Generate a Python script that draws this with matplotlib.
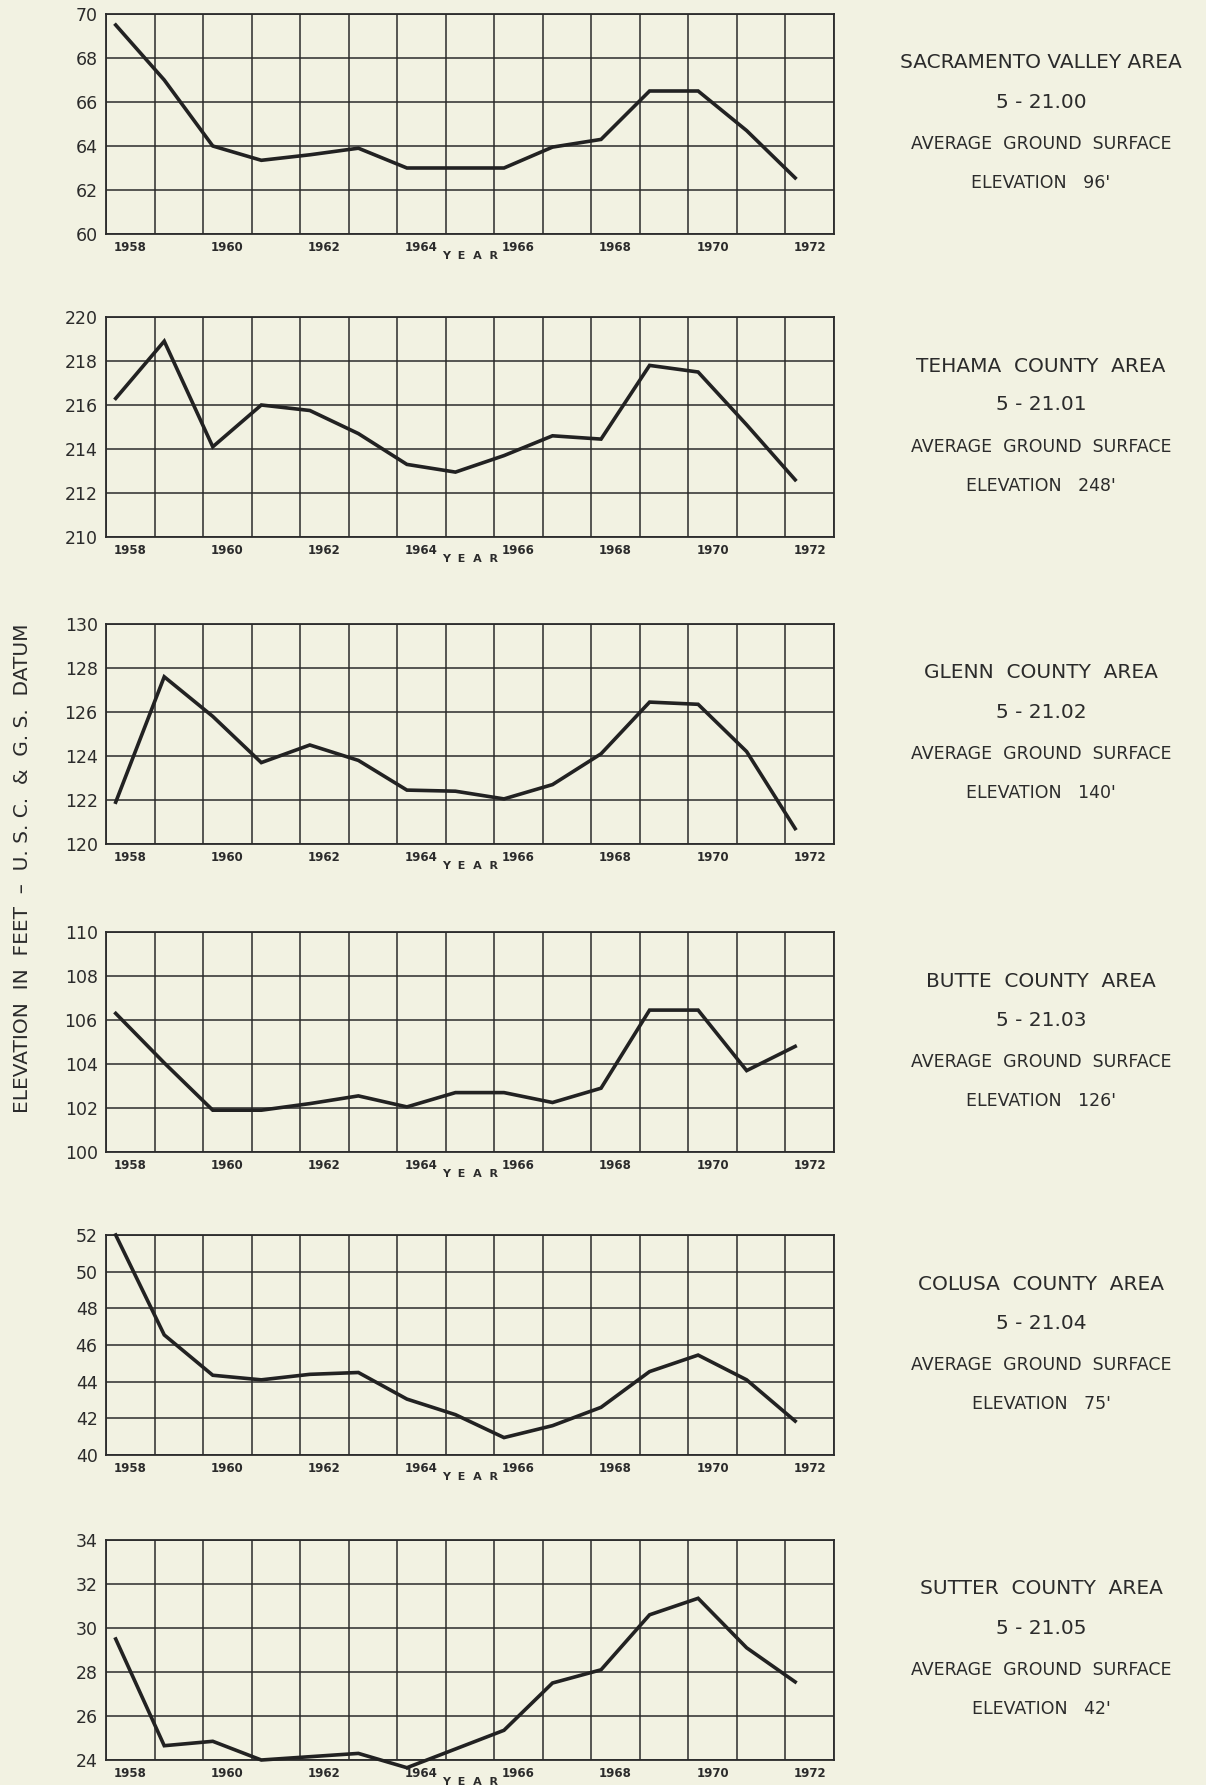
import numpy as np
import matplotlib
matplotlib.use("Agg")
import matplotlib.pyplot as plt
from matplotlib import font_manager

# ----- data (ft, USC&GS datum) -----
years = np.arange(1958, 1973)

sacramento = [69.5, 67.0, 64.0, 63.35, 63.6, 63.9, 63.0, 63.0, 63.0, 63.95, 64.3, 66.5, 66.5, 64.7, 62.55]
tehama = [216.3, 218.9, 214.1, 216.0, 215.75, 214.7, 213.3, 212.95, 213.7, 214.6, 214.45, 217.8, 217.5, 215.1, 212.6]
glenn = [121.9, 127.6, 125.8, 123.7, 124.5, 123.8, 122.45, 122.4, 122.05, 122.7, 124.1, 126.45, 126.35, 124.2, 120.7]
butte = [106.3, 104.05, 101.9, 101.9, 102.2, 102.55, 102.05, 102.7, 102.7, 102.25, 102.9, 106.45, 106.45, 103.7, 104.8]
colusa = [52.0, 46.55, 44.35, 44.1, 44.4, 44.5, 43.05, 42.2, 40.95, 41.6, 42.6, 44.55, 45.45, 44.1, 41.85]
sutter = [29.5, 24.65, 24.85, 24.0, 24.15, 24.3, 23.65, 24.5, 25.35, 27.5, 28.1, 30.6, 31.35, 29.1, 27.55]

series = [sacramento, tehama, glenn, butte, colusa, sutter]
y_limits = [(60, 70), (210, 220), (120, 130), (100, 110), (40, 52), (24, 34)]

area_names = ["SACRAMENTO VALLEY AREA", "TEHAMA  COUNTY  AREA", "GLENN  COUNTY  AREA",
              "BUTTE  COUNTY  AREA", "COLUSA  COUNTY  AREA", "SUTTER  COUNTY  AREA"]
basin_ids = ["5 - 21.00", "5 - 21.01", "5 - 21.02", "5 - 21.03", "5 - 21.04", "5 - 21.05"]
ground_elev = ["96'", "248'", "140'", "126'", "75'", "42'"]

# measurements plotted a little before the year mark
x_offset = -0.3

bg = "#f2f2e2"
ink = "#2b2b2b"

avail = {f.name for f in font_manager.fontManager.ttflist}
narrow = "Liberation Sans Narrow" if "Liberation Sans Narrow" in avail else "DejaVu Sans"

plt.rcParams['font.family'] = ['DejaVu Sans']

W, H = 1206, 1785
fig = plt.figure(figsize=(W / 100, H / 100), dpi=100, facecolor=bg)

left_px, right_px = 106, 834
tops_px = [14, 317, 624, 932, 1235, 1540]
h_px = 220

for i, vals in enumerate(series):
    top = tops_px[i]
    ax = fig.add_axes([left_px / W, 1 - (top + h_px) / H, (right_px - left_px) / W, h_px / H])
    ax.set_facecolor(bg)
    lo, hi = y_limits[i]
    ax.set_xlim(1957.5, 1972.5)
    ax.set_ylim(lo, hi)

    # grid: one cell per year, 2 ft rows
    ax.set_xticks(np.arange(1957.5, 1973.0, 1.0), minor=True)
    ax.set_xticks(years[::2])
    ax.set_xticklabels([str(y) for y in years[::2]], fontsize=8.5, family=narrow,
                       fontweight='bold', color=ink)
    ax.set_yticks(np.arange(lo, hi + 0.1, 2))
    ax.set_yticklabels([str(v) for v in np.arange(lo, hi + 1, 2)], fontsize=12.5,
                       family=narrow, color=ink)
    ax.tick_params(axis='both', which='both', length=0)
    ax.tick_params(axis='x', pad=5)
    ax.tick_params(axis='y', pad=6)
    ax.grid(True, which='minor', axis='x', color=ink, linewidth=1.1)
    ax.grid(True, which='major', axis='y', color=ink, linewidth=1.1)
    ax.grid(False, which='major', axis='x')
    for s in ax.spines.values():
        s.set_color(ink)
        s.set_linewidth(1.3)

    ax.plot(years + x_offset, vals, color="#222222", linewidth=2.6, clip_on=False,
            solid_joinstyle='miter', zorder=5)

    ax.annotate("Y  E  A  R", xy=(1965, 0), xycoords=('data', 'axes fraction'),
                xytext=(0, -22), textcoords='offset pixels', ha='center', va='center',
                fontsize=8, fontweight='bold', color=ink)

    # caption on the right
    cx = 1041 / W
    for dy, txt, fs in [(49, area_names[i], 14.5), (88, basin_ids[i], 14.5),
                        (130, "AVERAGE  GROUND  SURFACE", 12.5),
                        (169, "ELEVATION   " + ground_elev[i], 12.5)]:
        fig.text(cx, 1 - (top + dy) / H, txt, ha='center', va='center',
                 fontsize=fs, color=ink)

fig.text(23 / W, 1 - 868 / H, "ELEVATION  IN  FEET  \u2013  U. S. C.  &  G. S.  DATUM",
         rotation=90, ha='center', va='center', fontsize=14.5, color=ink)

plt.savefig("out.png", dpi=100, facecolor=bg)
plt.close(fig)
